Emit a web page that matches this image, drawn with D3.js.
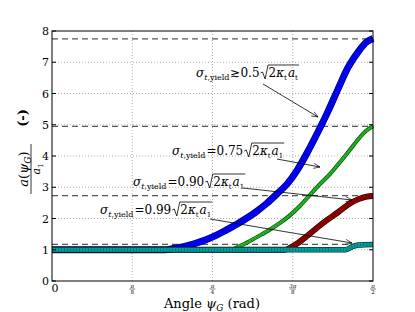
<!DOCTYPE html>
<html>
<head>
<meta charset="utf-8">
<script src="https://cdn.jsdelivr.net/npm/d3@7"></script>
<style>
  html, body { margin: 0; padding: 0; background: #fff; }
  svg text { font-family: "DejaVu Serif", "Liberation Serif", serif; fill: #000; }
</style>
</head>
<body>
<div id="chart"></div>
<script>
// angles in rad, ratio a(psi)/a1
const blueAngle  = [0, 0.55, 0.60, 0.65, 0.70, 0.75, 0.80, 0.85, 0.90, 0.95, 1.00, 1.05, 1.10, 1.15, 1.20, 1.25, 1.30, 1.35, 1.40, 1.45, 1.50, 1.54, 1.5708];
const blueRatio  = [1, 1.00, 1.05, 1.11, 1.20, 1.31, 1.45, 1.62, 1.80, 2.00, 2.22, 2.48, 2.78, 3.10, 3.55, 4.12, 4.75, 5.42, 6.15, 6.85, 7.35, 7.65, 7.76];
const greenAngle = [0, 0.871, 0.92, 0.969, 1.018, 1.067, 1.116, 1.164, 1.213, 1.262, 1.311, 1.36, 1.409, 1.458, 1.507, 1.536, 1.5708];
const greenRatio = [1, 1.00, 1.12, 1.28, 1.46, 1.65, 1.86, 2.10, 2.40, 2.75, 3.10, 3.42, 3.80, 4.20, 4.60, 4.80, 4.95];
const redAngle   = [0, 1.14, 1.17, 1.20, 1.25, 1.30, 1.35, 1.40, 1.45, 1.50, 1.54, 1.5708];
const redRatio   = [1, 1.00, 1.08, 1.20, 1.45, 1.72, 1.97, 2.20, 2.45, 2.62, 2.70, 2.72];
const cyanAngle  = [0, 1.435, 1.47, 1.50, 1.5708];
const cyanRatio  = [1, 1.00, 1.10, 1.15, 1.17];

const limitLevels = [7.75, 4.95, 2.73, 1.17];
const yTicks = [0, 1, 2, 3, 4, 5, 6, 7, 8];
const xTicks = [0, Math.PI / 8, Math.PI / 4, 3 * Math.PI / 8, Math.PI / 2];
const xTickNum = ['0', 'π', 'π', '3π', 'π'];
const xTickDen = ['', '8', '4', '8', '2'];

const coefText = ['0.5', '0.75', '0.90', '0.99'];
const coefOp = ['≳', '=', '=', '='];
const coefSub = ['t', '1', '1', '1'];

const width = 415, height = 312;
const margin = {top: 31, right: 42, bottom: 31, left: 52};
const innerW = width - margin.left - margin.right;
const innerH = height - margin.top - margin.bottom;

const svg = d3.select('#chart').append('svg')
    .attr('width', width)
    .attr('height', height);

const g = svg.append('g')
    .attr('transform', `translate(${margin.left},${margin.top})`);

const x = d3.scaleLinear().domain([0, Math.PI / 2]).range([0, innerW]);
const y = d3.scaleLinear().domain([0, 8]).range([innerH, 0]);

// dotted grid
g.append('g').selectAll('line')
    .data(yTicks.slice(1, -1))
    .enter().append('line')
    .attr('x1', 0).attr('x2', innerW)
    .attr('y1', d => y(d)).attr('y2', d => y(d))
    .attr('stroke', '#999').attr('stroke-width', 0.8)
    .attr('stroke-dasharray', '1,2');

g.append('g').selectAll('line')
    .data(xTicks.slice(1, -1))
    .enter().append('line')
    .attr('x1', d => x(d)).attr('x2', d => x(d))
    .attr('y1', 0).attr('y2', innerH)
    .attr('stroke', '#999').attr('stroke-width', 0.8)
    .attr('stroke-dasharray', '1,2');

// asymptotic levels
g.append('g').selectAll('line')
    .data(limitLevels)
    .enter().append('line')
    .attr('x1', 0).attr('x2', innerW)
    .attr('y1', d => y(d)).attr('y2', d => y(d))
    .attr('stroke', '#555').attr('stroke-width', 1.2)
    .attr('stroke-dasharray', '6,4');

// curves
const line = d3.line()
    .x(d => x(d[0]))
    .y(d => y(d[1]))
    .curve(d3.curveMonotoneX);

const series = [
    {angle: blueAngle, ratio: blueRatio, fill: '#0000ff', edge: '#000066', w: 5.5},
    {angle: greenAngle, ratio: greenRatio, fill: '#22bb22', edge: '#0a4d0a', w: 2.6},
    {angle: redAngle, ratio: redRatio, fill: '#990000', edge: '#220000', w: 4.5},
    {angle: cyanAngle, ratio: cyanRatio, fill: '#00a0a0', edge: '#003333', w: 4}
];

series.forEach(s => {
    const pts = s.angle.map((a, i) => [a, s.ratio[i]]);
    g.append('path').datum(pts)
        .attr('d', line)
        .attr('fill', 'none')
        .attr('stroke', s.edge)
        .attr('stroke-width', s.w + 1.4);
    g.append('path').datum(pts)
        .attr('d', line)
        .attr('fill', 'none')
        .attr('stroke', s.fill)
        .attr('stroke-width', s.w);
    g.append('path').datum(pts)
        .attr('d', line)
        .attr('fill', 'none')
        .attr('stroke', s.edge)
        .attr('stroke-opacity', 0.45)
        .attr('stroke-width', s.w * 0.6)
        .attr('stroke-dasharray', '1,2');
});

// frame
g.append('rect')
    .attr('width', innerW).attr('height', innerH)
    .attr('fill', 'none').attr('stroke', '#000').attr('stroke-width', 1);

// ticks inside
g.append('g').selectAll('line')
    .data(yTicks)
    .enter().append('line')
    .attr('x1', 0).attr('x2', 4)
    .attr('y1', d => y(d)).attr('y2', d => y(d))
    .attr('stroke', '#000');
g.append('g').selectAll('line')
    .data(yTicks)
    .enter().append('line')
    .attr('x1', innerW - 4).attr('x2', innerW)
    .attr('y1', d => y(d)).attr('y2', d => y(d))
    .attr('stroke', '#000');

// y tick labels
g.append('g').selectAll('text')
    .data(yTicks)
    .enter().append('text')
    .attr('x', -3)
    .attr('y', d => y(d) + 4)
    .attr('text-anchor', 'end')
    .style('font-size', '11px')
    .text(d => d);

// x tick labels (small fractions)
xTicks.forEach((t, i) => {
    const tx = x(t);
    if (!xTickDen[i]) {
        g.append('text')
            .attr('x', tx + 3).attr('y', innerH + 11)
            .attr('text-anchor', 'middle')
            .style('font-size', '11px')
            .text(xTickNum[i]);
        return;
    }
    g.append('text')
        .attr('x', tx).attr('y', innerH + 6.5)
        .attr('text-anchor', 'middle')
        .style('font-size', '5.5px')
        .style('font-style', 'italic')
        .text(xTickNum[i]);
    g.append('line')
        .attr('x1', tx - 3).attr('x2', tx + 3)
        .attr('y1', innerH + 8).attr('y2', innerH + 8)
        .attr('stroke', '#000').attr('stroke-width', 0.5);
    g.append('text')
        .attr('x', tx).attr('y', innerH + 12.5)
        .attr('text-anchor', 'middle')
        .style('font-size', '5.5px')
        .text(xTickDen[i]);
});

// x axis label
const xl = svg.append('text')
    .attr('x', 212).attr('y', 308)
    .attr('text-anchor', 'middle')
    .style('font-size', '13px');
xl.append('tspan').text('Angle ');
xl.append('tspan').style('font-style', 'italic').text('ψ');
xl.append('tspan').style('font-style', 'italic').style('font-size', '9px').attr('dy', 3).text('G');
xl.append('tspan').attr('dy', -3).text(' (rad)');

// y axis label: fraction + (-)
const yl = svg.append('g');
const yFrac = yl.append('g').attr('transform', 'translate(31,169) rotate(-90)');
const num = yFrac.append('text')
    .attr('x', 0).attr('y', -3)
    .attr('text-anchor', 'middle')
    .style('font-size', '13px');
num.append('tspan').style('font-style', 'italic').text('a');
num.append('tspan').text('(');
num.append('tspan').style('font-style', 'italic').text('ψ');
num.append('tspan').style('font-style', 'italic').style('font-size', '9px').attr('dy', 3).text('G');
num.append('tspan').attr('dy', -3).text(')');
yFrac.append('line')
    .attr('x1', -25).attr('x2', 25)
    .attr('y1', 0).attr('y2', 0)
    .attr('stroke', '#000').attr('stroke-width', 0.8);
const den = yFrac.append('text')
    .attr('x', 0).attr('y', 9)
    .attr('text-anchor', 'middle')
    .style('font-size', '11px');
den.append('tspan').style('font-style', 'italic').text('a');
den.append('tspan').style('font-size', '7px').attr('dy', 3).text('1');
yl.append('text')
    .attr('transform', 'translate(27,118) rotate(-90)')
    .attr('text-anchor', 'middle')
    .style('font-size', '13px')
    .style('font-weight', 'bold')
    .text('(-)');

// annotations
const notePos = [[196, 77], [172, 155], [133, 186], [100, 214]];
const arrows = [
    [[263, 84], [318, 117]],
    [[277, 159], [320, 167]],
    [[243, 188], [352, 200]],
    [[210, 219], [352, 243]]
];

function addPiece(parent, px, py, txt, size, italic) {
    const t = parent.append('text')
        .attr('x', px).attr('y', py)
        .style('font-size', size + 'px')
        .style('font-style', italic ? 'italic' : 'normal')
        .text(txt);
    return px + t.node().getComputedTextLength();
}

coefText.forEach((c, i) => {
    const [px0, py] = notePos[i];
    const grp = svg.append('g');
    let px = px0;
    px = addPiece(grp, px, py, 'σ', 12, true);
    px = addPiece(grp, px, py + 3, 't', 8, true);
    px = addPiece(grp, px, py + 3, ',yield', 8, false);
    px = addPiece(grp, px + 1, py, coefOp[i], 12, false);
    px = addPiece(grp, px, py, c, 12, false);
    const sx = px + 1;
    px = sx + 8;
    px = addPiece(grp, px, py, '2', 12, false);
    px = addPiece(grp, px, py, 'κ', 12, true);
    px = addPiece(grp, px, py + 3, 't', 7, false);
    px = addPiece(grp, px + 1, py, 'a', 12, true);
    px = addPiece(grp, px, py + 3, coefSub[i], 7, false);
    grp.append('path')
        .attr('d', `M${sx},${py - 4} L${sx + 2},${py - 5} L${sx + 4.5},${py + 2} L${sx + 7.5},${py - 12} L${px + 1},${py - 12}`)
        .attr('fill', 'none').attr('stroke', '#000').attr('stroke-width', 0.8);
});

svg.append('defs').append('marker')
    .attr('id', 'head')
    .attr('viewBox', '0 0 10 10')
    .attr('refX', 10).attr('refY', 5)
    .attr('markerWidth', 8).attr('markerHeight', 8)
    .attr('orient', 'auto')
    .append('path')
    .attr('d', 'M0,1 L10,5 L0,9')
    .attr('fill', 'none').attr('stroke', '#000').attr('stroke-width', 1);

svg.append('g').selectAll('line')
    .data(arrows)
    .enter().append('line')
    .attr('x1', d => d[0][0]).attr('y1', d => d[0][1])
    .attr('x2', d => d[1][0]).attr('y2', d => d[1][1])
    .attr('stroke', '#000').attr('stroke-width', 0.8)
    .attr('marker-end', 'url(#head)');
</script>
</body>
</html>
